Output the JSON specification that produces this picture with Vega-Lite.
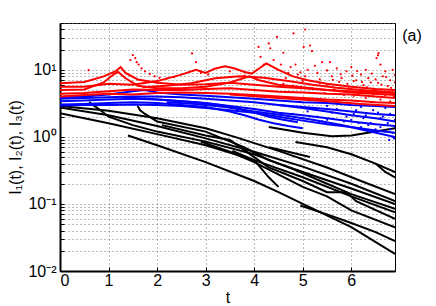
{
  "$schema": "https://vega.github.io/schema/vega-lite/v6.json",
  "width": 335,
  "height": 248,
  "autosize": {"type": "none"},
  "padding": {"left": 60, "top": 23, "right": 41, "bottom": 35},
  "config": {
    "view": {"stroke": "black", "strokeWidth": 1},
    "font": "Liberation Sans",
    "axis": {
      "domainColor": "black", "domainWidth": 2, "tickColor": "black", "tickSize": -4,
      "labelColor": "black", "titleColor": "black", "labelFontSize": 16, "titleFontSize": 16,
      "titleFontWeight": "normal", "grid": true, "gridDash": [1, 3], "gridColor": "#777",
      "labelOverlap": false, "labelBound": false
    }
  },
  "datasets": {
    "lines": [
      {"s":"k1","g":"I3","t":0,"v":2.9},{"s":"k1","g":"I3","t":1,"v":2.45},{"s":"k1","g":"I3","t":2,"v":1.9},{"s":"k1","g":"I3","t":3,"v":1.35},{"s":"k1","g":"I3","t":3.6,"v":1.0},{"s":"k1","g":"I3","t":4.5,"v":0.62},{"s":"k1","g":"I3","t":5.5,"v":0.35},{"s":"k1","g":"I3","t":6.2,"v":0.22},{"s":"k1","g":"I3","t":6.9,"v":0.14},
      {"s":"k2","g":"I3","t":0,"v":2.75},{"s":"k2","g":"I3","t":1,"v":2.1},{"s":"k2","g":"I3","t":2,"v":1.45},{"s":"k2","g":"I3","t":3,"v":0.95},{"s":"k2","g":"I3","t":4,"v":0.6},{"s":"k2","g":"I3","t":5,"v":0.36},{"s":"k2","g":"I3","t":6,"v":0.2},{"s":"k2","g":"I3","t":6.9,"v":0.11},
      {"s":"k3","g":"I3","t":0,"v":2.25},{"s":"k3","g":"I3","t":1,"v":1.6},{"s":"k3","g":"I3","t":2,"v":1.1},{"s":"k3","g":"I3","t":3,"v":0.75},{"s":"k3","g":"I3","t":4,"v":0.45},{"s":"k3","g":"I3","t":5,"v":0.25},{"s":"k3","g":"I3","t":6,"v":0.13},{"s":"k3","g":"I3","t":6.9,"v":0.075},
      {"s":"k4","g":"I3","t":0.6,"v":3.3},{"s":"k4","g":"I3","t":0.8,"v":2.6},{"s":"k4","g":"I3","t":1.0,"v":2.0},{"s":"k4","g":"I3","t":1.5,"v":1.5},{"s":"k4","g":"I3","t":2,"v":1.2},{"s":"k4","g":"I3","t":3,"v":0.85},{"s":"k4","g":"I3","t":4,"v":0.55},{"s":"k4","g":"I3","t":4.8,"v":0.33},{"s":"k4","g":"I3","t":5.5,"v":0.2},{"s":"k4","g":"I3","t":6,"v":0.14},{"s":"k4","g":"I3","t":6.9,"v":0.085},
      {"s":"k5","g":"I3","t":1.4,"v":1.05},{"s":"k5","g":"I3","t":2,"v":0.75},{"s":"k5","g":"I3","t":3,"v":0.42},{"s":"k5","g":"I3","t":4,"v":0.22},{"s":"k5","g":"I3","t":4.5,"v":0.15},{"s":"k5","g":"I3","t":5,"v":0.1},{"s":"k5","g":"I3","t":6,"v":0.045},{"s":"k5","g":"I3","t":6.9,"v":0.018},
      {"s":"k6","g":"I3","t":1.6,"v":2.9},{"s":"k6","g":"I3","t":1.65,"v":2.5},{"s":"k6","g":"I3","t":1.75,"v":2.2},{"s":"k6","g":"I3","t":2,"v":1.7},{"s":"k6","g":"I3","t":3,"v":1.2},{"s":"k6","g":"I3","t":3.8,"v":0.7},{"s":"k6","g":"I3","t":4.3,"v":0.45},{"s":"k6","g":"I3","t":5,"v":0.3},{"s":"k6","g":"I3","t":6,"v":0.17},{"s":"k6","g":"I3","t":6.9,"v":0.1},
      {"s":"k7","g":"I3","t":2.1,"v":1.5},{"s":"k7","g":"I3","t":3,"v":1.05},{"s":"k7","g":"I3","t":3.5,"v":0.9},{"s":"k7","g":"I3","t":4,"v":0.5},{"s":"k7","g":"I3","t":4.3,"v":0.35},{"s":"k7","g":"I3","t":5,"v":0.22},{"s":"k7","g":"I3","t":5.5,"v":0.15},{"s":"k7","g":"I3","t":5.9,"v":0.15},{"s":"k7","g":"I3","t":6.1,"v":0.11},{"s":"k7","g":"I3","t":6.9,"v":0.06},
      {"s":"k8","g":"I3","t":2.9,"v":0.85},{"s":"k8","g":"I3","t":3.5,"v":0.6},{"s":"k8","g":"I3","t":4,"v":0.42},{"s":"k8","g":"I3","t":5,"v":0.18},{"s":"k8","g":"I3","t":5.5,"v":0.13},{"s":"k8","g":"I3","t":6,"v":0.08},{"s":"k8","g":"I3","t":6.9,"v":0.045},
      {"s":"k9","g":"I3","t":4.95,"v":0.095},{"s":"k9","g":"I3","t":5.5,"v":0.07},{"s":"k9","g":"I3","t":6,"v":0.052},{"s":"k9","g":"I3","t":6.5,"v":0.038},{"s":"k9","g":"I3","t":6.9,"v":0.028},
      {"s":"k10","g":"I3","t":4.3,"v":1.4},{"s":"k10","g":"I3","t":5,"v":1.15},{"s":"k10","g":"I3","t":5.6,"v":1.02},{"s":"k10","g":"I3","t":6,"v":1.05},{"s":"k10","g":"I3","t":6.5,"v":1.2},{"s":"k10","g":"I3","t":6.9,"v":1.35},
      {"s":"k11","g":"I3","t":4.85,"v":0.84},{"s":"k11","g":"I3","t":5.5,"v":0.7},{"s":"k11","g":"I3","t":6,"v":0.55},{"s":"k11","g":"I3","t":6.5,"v":0.4},{"s":"k11","g":"I3","t":6.9,"v":0.3},
      {"s":"k12","g":"I3","t":4.3,"v":0.7},{"s":"k12","g":"I3","t":4.7,"v":0.6},{"s":"k12","g":"I3","t":5.15,"v":0.5},
      {"s":"k13","g":"I3","t":6.5,"v":0.4},{"s":"k13","g":"I3","t":6.7,"v":0.3},{"s":"k13","g":"I3","t":6.9,"v":0.25},
      {"s":"k14","g":"I3","t":3.55,"v":0.62},{"s":"k14","g":"I3","t":4,"v":0.45},{"s":"k14","g":"I3","t":4.3,"v":0.25},{"s":"k14","g":"I3","t":4.5,"v":0.18},
      {"s":"b1","g":"I2","t":0,"v":3.95},{"s":"b1","g":"I2","t":0.5,"v":4.0},{"s":"b1","g":"I2","t":1.0,"v":4.3},{"s":"b1","g":"I2","t":1.5,"v":4.8},{"s":"b1","g":"I2","t":1.75,"v":5.0},{"s":"b1","g":"I2","t":2.0,"v":4.6},{"s":"b1","g":"I2","t":2.5,"v":4.3},{"s":"b1","g":"I2","t":3.0,"v":4.1},{"s":"b1","g":"I2","t":3.5,"v":3.9},{"s":"b1","g":"I2","t":4.0,"v":3.7},{"s":"b1","g":"I2","t":4.5,"v":3.5},{"s":"b1","g":"I2","t":5.0,"v":3.3},{"s":"b1","g":"I2","t":5.5,"v":3.2},{"s":"b1","g":"I2","t":6.0,"v":3.0},{"s":"b1","g":"I2","t":6.5,"v":2.9},{"s":"b1","g":"I2","t":6.9,"v":2.8},
      {"s":"b2","g":"I2","t":0,"v":3.7},{"s":"b2","g":"I2","t":0.5,"v":3.8},{"s":"b2","g":"I2","t":1.0,"v":3.9},{"s":"b2","g":"I2","t":1.5,"v":4.0},{"s":"b2","g":"I2","t":2.0,"v":4.0},{"s":"b2","g":"I2","t":2.5,"v":3.9},{"s":"b2","g":"I2","t":3.0,"v":3.7},{"s":"b2","g":"I2","t":3.5,"v":3.5},{"s":"b2","g":"I2","t":4.0,"v":3.3},{"s":"b2","g":"I2","t":4.5,"v":3.0},{"s":"b2","g":"I2","t":5.0,"v":2.8},{"s":"b2","g":"I2","t":5.5,"v":2.6},{"s":"b2","g":"I2","t":6.0,"v":2.4},{"s":"b2","g":"I2","t":6.5,"v":2.2},{"s":"b2","g":"I2","t":6.9,"v":2.1},
      {"s":"b3","g":"I2","t":0,"v":3.4},{"s":"b3","g":"I2","t":0.5,"v":3.5},{"s":"b3","g":"I2","t":1.0,"v":3.6},{"s":"b3","g":"I2","t":1.5,"v":3.7},{"s":"b3","g":"I2","t":2.0,"v":3.6},{"s":"b3","g":"I2","t":2.5,"v":3.4},{"s":"b3","g":"I2","t":3.0,"v":3.2},{"s":"b3","g":"I2","t":3.5,"v":2.9},{"s":"b3","g":"I2","t":4.0,"v":2.6},{"s":"b3","g":"I2","t":4.5,"v":2.3},{"s":"b3","g":"I2","t":5.0,"v":2.1},{"s":"b3","g":"I2","t":5.5,"v":1.9},{"s":"b3","g":"I2","t":6.0,"v":1.7},{"s":"b3","g":"I2","t":6.5,"v":1.55},{"s":"b3","g":"I2","t":6.9,"v":1.45},
      {"s":"b4","g":"I2","t":0,"v":3.05},{"s":"b4","g":"I2","t":0.5,"v":3.1},{"s":"b4","g":"I2","t":1.0,"v":3.2},{"s":"b4","g":"I2","t":1.5,"v":3.3},{"s":"b4","g":"I2","t":2.0,"v":3.2},{"s":"b4","g":"I2","t":2.5,"v":3.0},{"s":"b4","g":"I2","t":3.0,"v":2.8},{"s":"b4","g":"I2","t":3.5,"v":2.4},{"s":"b4","g":"I2","t":3.8,"v":2.1},{"s":"b4","g":"I2","t":4.1,"v":1.8},{"s":"b4","g":"I2","t":4.4,"v":1.6},{"s":"b4","g":"I2","t":4.7,"v":1.45},{"s":"b4","g":"I2","t":5.0,"v":1.35},
      {"s":"b5","g":"I2","t":0,"v":2.95},{"s":"b5","g":"I2","t":0.5,"v":3.0},{"s":"b5","g":"I2","t":1.0,"v":3.0},{"s":"b5","g":"I2","t":1.5,"v":3.05},{"s":"b5","g":"I2","t":2.0,"v":3.0},{"s":"b5","g":"I2","t":2.5,"v":2.9},{"s":"b5","g":"I2","t":3.0,"v":2.7},{"s":"b5","g":"I2","t":3.5,"v":2.5},{"s":"b5","g":"I2","t":4.0,"v":2.3},{"s":"b5","g":"I2","t":4.5,"v":2.0},{"s":"b5","g":"I2","t":5.0,"v":1.75},{"s":"b5","g":"I2","t":5.5,"v":1.55},{"s":"b5","g":"I2","t":6.0,"v":1.4},{"s":"b5","g":"I2","t":6.5,"v":1.25},{"s":"b5","g":"I2","t":6.9,"v":1.15},
      {"s":"b6","g":"I2","t":1.3,"v":3.9},{"s":"b6","g":"I2","t":1.8,"v":3.7},{"s":"b6","g":"I2","t":2.3,"v":3.5},{"s":"b6","g":"I2","t":2.8,"v":3.3},{"s":"b6","g":"I2","t":3.3,"v":3.0},{"s":"b6","g":"I2","t":3.7,"v":2.6},{"s":"b6","g":"I2","t":4.0,"v":2.3},{"s":"b6","g":"I2","t":4.3,"v":2.0},{"s":"b6","g":"I2","t":4.6,"v":1.8},{"s":"b6","g":"I2","t":4.9,"v":1.65},
      {"s":"b7","g":"I2","t":2.2,"v":3.3},{"s":"b7","g":"I2","t":2.8,"v":3.1},{"s":"b7","g":"I2","t":3.4,"v":2.8},{"s":"b7","g":"I2","t":4.0,"v":2.4},{"s":"b7","g":"I2","t":4.6,"v":2.1},{"s":"b7","g":"I2","t":5.2,"v":1.8},{"s":"b7","g":"I2","t":5.8,"v":1.5},{"s":"b7","g":"I2","t":6.3,"v":1.25},{"s":"b7","g":"I2","t":6.9,"v":1.0},
      {"s":"b8","g":"I2","t":4.5,"v":3.0},{"s":"b8","g":"I2","t":5.0,"v":2.7},{"s":"b8","g":"I2","t":5.5,"v":2.4},{"s":"b8","g":"I2","t":6.0,"v":2.1},{"s":"b8","g":"I2","t":6.5,"v":1.9},{"s":"b8","g":"I2","t":6.9,"v":1.7},
      {"s":"r1","g":"I1","t":0,"v":6.3},{"s":"r1","g":"I1","t":0.5,"v":6.6},{"s":"r1","g":"I1","t":0.9,"v":8},{"s":"r1","g":"I1","t":1.15,"v":9.6},{"s":"r1","g":"I1","t":1.25,"v":11},{"s":"r1","g":"I1","t":1.35,"v":9},{"s":"r1","g":"I1","t":1.6,"v":7.2},{"s":"r1","g":"I1","t":2.0,"v":6.4},{"s":"r1","g":"I1","t":2.5,"v":6.0},{"s":"r1","g":"I1","t":3.0,"v":6.1},{"s":"r1","g":"I1","t":3.5,"v":6.4},{"s":"r1","g":"I1","t":4.0,"v":6.0},{"s":"r1","g":"I1","t":4.5,"v":5.6},{"s":"r1","g":"I1","t":5.0,"v":5.3},{"s":"r1","g":"I1","t":5.5,"v":5.0},{"s":"r1","g":"I1","t":6.0,"v":4.8},{"s":"r1","g":"I1","t":6.5,"v":4.6},{"s":"r1","g":"I1","t":6.9,"v":4.5},
      {"s":"r2","g":"I1","t":0,"v":5.6},{"s":"r2","g":"I1","t":0.5,"v":5.6},{"s":"r2","g":"I1","t":1.0,"v":6.2},{"s":"r2","g":"I1","t":1.5,"v":6.0},{"s":"r2","g":"I1","t":2.0,"v":6.8},{"s":"r2","g":"I1","t":2.5,"v":8.5},{"s":"r2","g":"I1","t":2.8,"v":10},{"s":"r2","g":"I1","t":3.0,"v":9.0},{"s":"r2","g":"I1","t":3.2,"v":10.5},{"s":"r2","g":"I1","t":3.4,"v":11.3},{"s":"r2","g":"I1","t":3.6,"v":10.5},{"s":"r2","g":"I1","t":3.8,"v":9.3},{"s":"r2","g":"I1","t":3.95,"v":8.8},{"s":"r2","g":"I1","t":4.1,"v":10.5},{"s":"r2","g":"I1","t":4.25,"v":12.5},{"s":"r2","g":"I1","t":4.5,"v":10},{"s":"r2","g":"I1","t":4.8,"v":8},{"s":"r2","g":"I1","t":5.1,"v":7},{"s":"r2","g":"I1","t":5.5,"v":6.2},{"s":"r2","g":"I1","t":6.0,"v":5.6},{"s":"r2","g":"I1","t":6.5,"v":5.2},{"s":"r2","g":"I1","t":6.9,"v":5.0},
      {"s":"r3","g":"I1","t":0,"v":5.0},{"s":"r3","g":"I1","t":0.5,"v":5.1},{"s":"r3","g":"I1","t":0.9,"v":6.5},{"s":"r3","g":"I1","t":1.1,"v":8.5},{"s":"r3","g":"I1","t":1.2,"v":9.3},{"s":"r3","g":"I1","t":1.35,"v":7.5},{"s":"r3","g":"I1","t":1.6,"v":5.8},{"s":"r3","g":"I1","t":2.0,"v":5.3},{"s":"r3","g":"I1","t":2.5,"v":5.3},{"s":"r3","g":"I1","t":3.0,"v":5.6},{"s":"r3","g":"I1","t":3.5,"v":6.5},{"s":"r3","g":"I1","t":3.9,"v":8},{"s":"r3","g":"I1","t":4.1,"v":7},{"s":"r3","g":"I1","t":4.5,"v":6.0},{"s":"r3","g":"I1","t":5.0,"v":5.5},{"s":"r3","g":"I1","t":5.5,"v":5.0},{"s":"r3","g":"I1","t":6.0,"v":4.6},{"s":"r3","g":"I1","t":6.9,"v":4.2},
      {"s":"r4","g":"I1","t":0,"v":4.4},{"s":"r4","g":"I1","t":0.5,"v":4.5},{"s":"r4","g":"I1","t":1.0,"v":4.8},{"s":"r4","g":"I1","t":1.5,"v":5.1},{"s":"r4","g":"I1","t":2.0,"v":5.0},{"s":"r4","g":"I1","t":2.5,"v":5.0},{"s":"r4","g":"I1","t":3.0,"v":5.2},{"s":"r4","g":"I1","t":3.5,"v":5.3},{"s":"r4","g":"I1","t":4.0,"v":5.0},{"s":"r4","g":"I1","t":4.5,"v":4.7},{"s":"r4","g":"I1","t":5.0,"v":4.6},{"s":"r4","g":"I1","t":5.5,"v":4.4},{"s":"r4","g":"I1","t":6.0,"v":4.3},{"s":"r4","g":"I1","t":6.5,"v":4.0},{"s":"r4","g":"I1","t":6.9,"v":3.8},
      {"s":"r5","g":"I1","t":0,"v":4.0},{"s":"r5","g":"I1","t":0.5,"v":4.2},{"s":"r5","g":"I1","t":1.0,"v":4.4},{"s":"r5","g":"I1","t":1.5,"v":4.3},{"s":"r5","g":"I1","t":2.0,"v":4.5},{"s":"r5","g":"I1","t":2.5,"v":4.6},{"s":"r5","g":"I1","t":3.0,"v":4.5},{"s":"r5","g":"I1","t":3.5,"v":4.4},{"s":"r5","g":"I1","t":4.0,"v":4.2},{"s":"r5","g":"I1","t":4.5,"v":4.0},{"s":"r5","g":"I1","t":5.0,"v":3.8},{"s":"r5","g":"I1","t":5.5,"v":3.6},{"s":"r5","g":"I1","t":6.0,"v":3.5},{"s":"r5","g":"I1","t":6.5,"v":3.3},{"s":"r5","g":"I1","t":6.9,"v":3.2},
      {"s":"r6","g":"I1","t":1.7,"v":5.5},{"s":"r6","g":"I1","t":2.2,"v":5.8},{"s":"r6","g":"I1","t":2.7,"v":6.3},{"s":"r6","g":"I1","t":3.2,"v":7.5},{"s":"r6","g":"I1","t":3.7,"v":8.0},{"s":"r6","g":"I1","t":4.2,"v":7.6},{"s":"r6","g":"I1","t":4.7,"v":6.8},{"s":"r6","g":"I1","t":5.2,"v":6.0},{"s":"r6","g":"I1","t":5.7,"v":5.4},{"s":"r6","g":"I1","t":6.2,"v":5.0},{"s":"r6","g":"I1","t":6.9,"v":4.6},
      {"s":"r7","g":"I1","t":3.5,"v":4.3},{"s":"r7","g":"I1","t":4.5,"v":3.8},{"s":"r7","g":"I1","t":5.5,"v":3.4},{"s":"r7","g":"I1","t":6.2,"v":3.1},{"s":"r7","g":"I1","t":6.9,"v":2.9}
    ],
    "dots": [
      {"g":"I2","t":4.8,"v":2.2},{"g":"I2","t":5.0,"v":1.9},{"g":"I2","t":5.2,"v":2.6},{"g":"I2","t":5.4,"v":1.7},{"g":"I2","t":5.6,"v":2.3},{"g":"I2","t":5.8,"v":1.5},{"g":"I2","t":5.9,"v":2.0},{"g":"I2","t":6.0,"v":1.8},{"g":"I2","t":6.1,"v":2.5},{"g":"I2","t":6.2,"v":1.4},{"g":"I2","t":6.3,"v":2.1},{"g":"I2","t":6.4,"v":1.6},{"g":"I2","t":6.5,"v":1.3},{"g":"I2","t":6.55,"v":2.3},{"g":"I2","t":6.6,"v":1.9},{"g":"I2","t":6.7,"v":1.2},{"g":"I2","t":6.75,"v":1.6},{"g":"I2","t":6.8,"v":2.2},{"g":"I2","t":6.85,"v":1.0},{"g":"I2","t":6.9,"v":1.4},{"g":"I2","t":6.88,"v":0.95},{"g":"I2","t":6.2,"v":2.8},{"g":"I2","t":5.5,"v":2.9},{"g":"I2","t":6.7,"v":2.7},
      {"g":"I2","t":5.1,"v":2.4},{"g":"I2","t":5.3,"v":2.0},{"g":"I2","t":5.5,"v":1.8},{"g":"I2","t":5.7,"v":2.6},{"g":"I2","t":5.85,"v":1.7},{"g":"I2","t":6.05,"v":2.2},{"g":"I2","t":6.15,"v":1.6},{"g":"I2","t":6.25,"v":1.9},{"g":"I2","t":6.35,"v":1.5},{"g":"I2","t":6.45,"v":2.5},{"g":"I2","t":6.6,"v":1.4},{"g":"I2","t":6.65,"v":2.0},{"g":"I2","t":6.8,"v":1.3},{"g":"I2","t":6.9,"v":1.8},{"g":"I2","t":6.85,"v":1.15},{"g":"I2","t":6.78,"v":0.9},
      {"g":"I1","t":0.59,"v":9.9},{"g":"I1","t":1.45,"v":14},{"g":"I1","t":1.5,"v":16.6},{"g":"I1","t":1.55,"v":15},{"g":"I1","t":1.58,"v":13},{"g":"I1","t":1.62,"v":12},{"g":"I1","t":1.68,"v":10.5},{"g":"I1","t":1.75,"v":9.5},{"g":"I1","t":1.85,"v":8.7},{"g":"I1","t":1.95,"v":8},{"g":"I1","t":2.05,"v":7.6},{"g":"I1","t":2.2,"v":7.4},{"g":"I1","t":2.35,"v":7.8},{"g":"I1","t":2.72,"v":17.6},{"g":"I1","t":2.8,"v":13},{"g":"I1","t":2.9,"v":9},{"g":"I1","t":3.05,"v":8.5},{"g":"I1","t":3.5,"v":9.5},{"g":"I1","t":3.8,"v":8.2},{"g":"I1","t":4.09,"v":22},{"g":"I1","t":4.13,"v":15.6},{"g":"I1","t":4.2,"v":12},{"g":"I1","t":4.3,"v":24.8},{"g":"I1","t":4.33,"v":21},{"g":"I1","t":4.4,"v":14},{"g":"I1","t":4.47,"v":31},{"g":"I1","t":4.55,"v":12},{"g":"I1","t":4.6,"v":18},{"g":"I1","t":4.7,"v":9},{"g":"I1","t":4.81,"v":35},{"g":"I1","t":4.85,"v":12},{"g":"I1","t":4.9,"v":8.5},{"g":"I1","t":5.02,"v":22},{"g":"I1","t":5.05,"v":40},{"g":"I1","t":5.1,"v":10},{"g":"I1","t":5.15,"v":23},{"g":"I1","t":5.19,"v":19},{"g":"I1","t":5.3,"v":9},{"g":"I1","t":5.4,"v":13},{"g":"I1","t":5.56,"v":13},{"g":"I1","t":5.6,"v":8},{"g":"I1","t":5.7,"v":10.5},{"g":"I1","t":5.8,"v":7.5},{"g":"I1","t":5.9,"v":9.5},{"g":"I1","t":6.0,"v":11},{"g":"I1","t":6.1,"v":7},{"g":"I1","t":6.2,"v":8.5},{"g":"I1","t":6.3,"v":10},{"g":"I1","t":6.4,"v":6.5},{"g":"I1","t":6.52,"v":15},{"g":"I1","t":6.55,"v":16.5},{"g":"I1","t":6.56,"v":17.7},{"g":"I1","t":6.6,"v":12},{"g":"I1","t":6.65,"v":8},{"g":"I1","t":6.7,"v":9.5},{"g":"I1","t":6.8,"v":7},{"g":"I1","t":6.85,"v":10},{"g":"I1","t":6.9,"v":6.5},
      {"g":"I1","t":4.6,"v":6.2},{"g":"I1","t":4.8,"v":5.8},{"g":"I1","t":5.0,"v":6.8},{"g":"I1","t":5.2,"v":5.3},{"g":"I1","t":5.35,"v":7.2},{"g":"I1","t":5.5,"v":6.0},{"g":"I1","t":5.65,"v":5.1},{"g":"I1","t":5.75,"v":6.6},{"g":"I1","t":5.95,"v":5.6},{"g":"I1","t":6.05,"v":6.8},{"g":"I1","t":6.15,"v":4.6},{"g":"I1","t":6.25,"v":5.9},{"g":"I1","t":6.35,"v":7.5},{"g":"I1","t":6.45,"v":5.2},{"g":"I1","t":6.55,"v":6.4},{"g":"I1","t":6.65,"v":4.4},{"g":"I1","t":6.75,"v":5.7},{"g":"I1","t":6.85,"v":4.9},{"g":"I1","t":5.45,"v":4.5},{"g":"I1","t":5.85,"v":4.2},{"g":"I1","t":6.3,"v":3.8},{"g":"I1","t":6.6,"v":3.6},{"g":"I1","t":6.8,"v":3.4},
      {"g":"I1","t":4.65,"v":7.5},{"g":"I1","t":4.75,"v":11},{"g":"I1","t":4.95,"v":9.2},{"g":"I1","t":5.05,"v":8},{"g":"I1","t":5.25,"v":11.5},{"g":"I1","t":5.35,"v":6.3},{"g":"I1","t":5.5,"v":9.8},{"g":"I1","t":5.62,"v":7.1},{"g":"I1","t":5.78,"v":8.6},{"g":"I1","t":5.92,"v":6.2},{"g":"I1","t":6.02,"v":8.2},{"g":"I1","t":6.12,"v":9.6},{"g":"I1","t":6.22,"v":6.6},{"g":"I1","t":6.32,"v":5.5},{"g":"I1","t":6.42,"v":8.8},{"g":"I1","t":6.5,"v":7.2},{"g":"I1","t":6.62,"v":6.0},{"g":"I1","t":6.72,"v":7.8},{"g":"I1","t":6.82,"v":5.4},{"g":"I1","t":6.9,"v":8.4},{"g":"I1","t":6.88,"v":4.0},{"g":"I1","t":6.7,"v":4.2},{"g":"I1","t":6.45,"v":4.3},{"g":"I1","t":6.05,"v":4.1}
    ],
    "note": [{"t": 7.05, "v": 32, "txt": "(a)"}]
  },
  "encoding": {
    "x": {"field": "t", "type": "quantitative", "scale": {"domain": [0, 6.9], "nice": false},
      "axis": {"values": [0,1,2,3,4,5,6], "title": "t", "format": "d", "labelPadding": 5, "titlePadding": 1}},
    "y": {"field": "v", "type": "quantitative", "scale": {"type": "log", "domain": [0.01, 50], "nice": false},
      "axis": {"values": [0.01,0.02,0.03,0.04,0.05,0.06,0.07,0.08,0.09,0.1,0.2,0.3,0.4,0.5,0.6,0.7,0.8,0.9,1,2,3,4,5,6,7,8,9,10,20,30,40,50],
        "labelExpr": "datum.value == 0.01 ? '10⁻²' : datum.value == 0.1 ? '10⁻¹' : datum.value == 1 ? '10⁰' : datum.value == 10 ? '10¹' : ''",
        "title": "I₁(t),  I₂(t),  I₃(t)", "labelPadding": 8, "titlePadding": 4}}
  },
  "layer": [
    {"data": {"name": "lines"}, "mark": {"type": "line", "strokeWidth": 2, "clip": true},
     "encoding": {"color": {"field": "g", "type": "nominal", "scale": {"domain": ["I1","I2","I3"], "range": ["#ff0000","#0000ff","#000000"]}, "legend": null},
       "detail": {"field": "s"}}},
    {"data": {"name": "dots"}, "mark": {"type": "circle", "size": 5, "opacity": 1, "clip": true},
     "encoding": {"color": {"field": "g", "type": "nominal", "scale": {"domain": ["I1","I2","I3"], "range": ["#ff0000","#0000ff","#000000"]}, "legend": null}}},
    {"data": {"name": "note"}, "mark": {"type": "text", "fontSize": 16, "color": "black", "align": "left", "baseline": "middle", "font": "Liberation Sans"},
     "encoding": {"text": {"field": "txt"}}}
  ]
}
